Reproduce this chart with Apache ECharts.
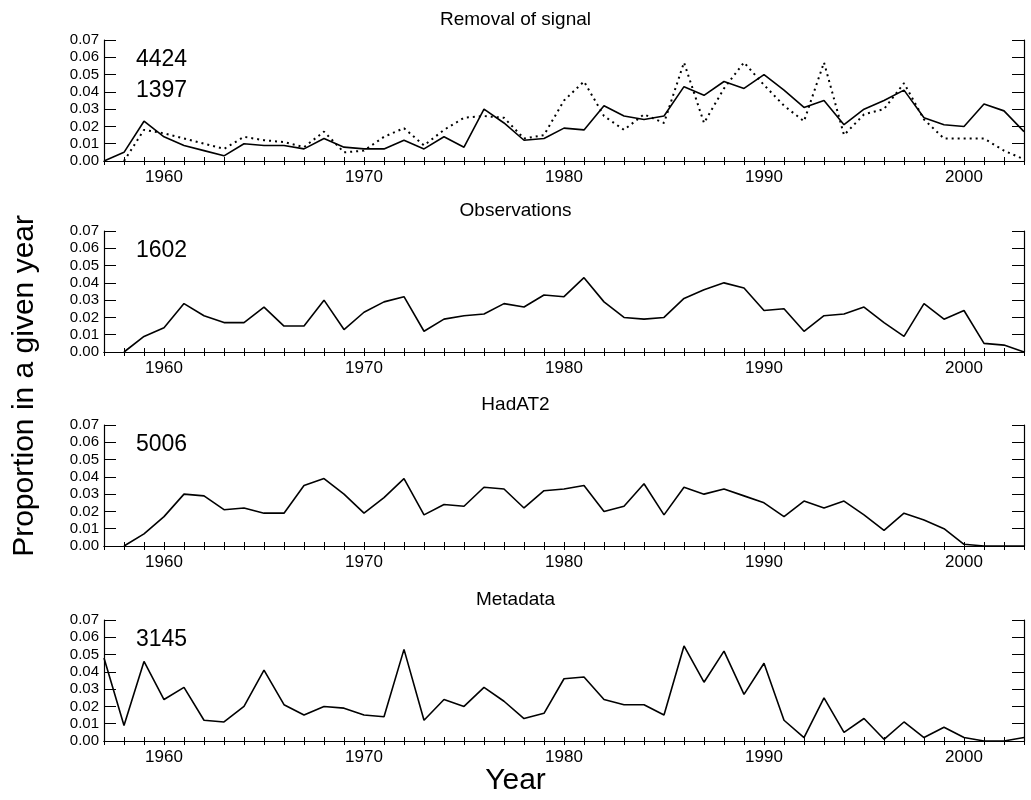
<!DOCTYPE html>
<html>
<head>
<meta charset="utf-8" />
<script src="https://cdn.jsdelivr.net/npm/echarts@6/dist/echarts.min.js"></script>
<style>
html,body{margin:0;padding:0;background:#fff;}
#chart{width:1031px;height:800px;}
</style>
</head>
<body>
<div id="chart"></div>
<script>
var years = [];
for (var y = 1957; y <= 2003; y++) years.push(y);
var decadeLabels = [1960, 1970, 1980, 1990, 2000];

var removalSolid = [0, 0.005, 0.023, 0.014, 0.009, 0.006, 0.003, 0.010, 0.009, 0.009, 0.007, 0.013, 0.008, 0.007, 0.007, 0.012, 0.007, 0.014, 0.008, 0.030, 0.022, 0.012, 0.013, 0.019, 0.018, 0.032, 0.026, 0.024, 0.026, 0.043, 0.038, 0.046, 0.042, 0.050, 0.041, 0.031, 0.035, 0.021, 0.030, 0.035, 0.041, 0.025, 0.021, 0.020, 0.033, 0.029, 0.017];
var removalDotted = [null, 0, 0.018, 0.016, 0.013, 0.010, 0.007, 0.014, 0.012, 0.011, 0.008, 0.017, 0.005, 0.006, 0.014, 0.019, 0.009, 0.018, 0.025, 0.026, 0.025, 0.013, 0.015, 0.035, 0.046, 0.026, 0.018, 0.027, 0.022, 0.057, 0.022, 0.042, 0.057, 0.044, 0.032, 0.023, 0.057, 0.015, 0.027, 0.030, 0.045, 0.024, 0.013, 0.013, 0.013, 0.006, 0.001];
var observations = [null, 0, 0.009, 0.014, 0.028, 0.021, 0.017, 0.017, 0.026, 0.015, 0.015, 0.030, 0.013, 0.023, 0.029, 0.032, 0.012, 0.019, 0.021, 0.022, 0.028, 0.026, 0.033, 0.032, 0.043, 0.029, 0.020, 0.019, 0.020, 0.031, 0.036, 0.040, 0.037, 0.024, 0.025, 0.012, 0.021, 0.022, 0.026, 0.017, 0.009, 0.028, 0.019, 0.024, 0.005, 0.004, 0.0];
var hadat2 = [null, 0, 0.007, 0.017, 0.030, 0.029, 0.021, 0.022, 0.019, 0.019, 0.035, 0.039, 0.030, 0.019, 0.028, 0.039, 0.018, 0.024, 0.023, 0.034, 0.033, 0.022, 0.032, 0.033, 0.035, 0.020, 0.023, 0.036, 0.018, 0.034, 0.030, 0.033, 0.029, 0.025, 0.017, 0.026, 0.022, 0.026, 0.018, 0.009, 0.019, 0.015, 0.010, 0.001, 0, 0, 0];
var metadata = [0.048, 0.009, 0.046, 0.024, 0.031, 0.012, 0.011, 0.020, 0.041, 0.021, 0.015, 0.020, 0.019, 0.015, 0.014, 0.053, 0.012, 0.024, 0.020, 0.031, 0.023, 0.013, 0.016, 0.036, 0.037, 0.024, 0.021, 0.021, 0.015, 0.055, 0.034, 0.052, 0.027, 0.045, 0.012, 0.002, 0.025, 0.005, 0.013, 0.001, 0.011, 0.002, 0.008, 0.002, 0, 0, 0.002];

var titles = ['Removal of signal', 'Observations', 'HadAT2', 'Metadata'];
var counts = [['4424', '1397'], ['1602'], ['5006'], ['3145']];
var tops = [40, 231, 425, 620];
var panelH = 121;

function pairs(vals) {
  return years.map(function (yr, i) { return [yr, vals[i]]; });
}

var font = 'Liberation Sans, Arial, sans-serif';
var grids = [], xAxes = [], yAxes = [], series = [], graphics = [];
tops.forEach(function (t, i) {
  grids.push({ left: 104, right: 7, top: t, height: panelH });
  xAxes.push({
    type: 'value', gridIndex: i, min: 1957, max: 2003, position: 'bottom',
    axisLine: { onZero: false, lineStyle: { color: '#000', width: 1.2 } },
    axisTick: { inside: true, length: 4, customValues: years, lineStyle: { color: '#000' } },
    axisLabel: { customValues: decadeLabels, color: '#000', fontSize: 17, fontFamily: font, margin: 8,
      formatter: function (v) { return String(v); } },
    splitLine: { show: false }
  });
  xAxes.push({
    type: 'value', gridIndex: i, min: 1957, max: 2003, position: 'top',
    axisLine: { lineStyle: { color: '#000', width: 1.2 } },
    axisTick: { inside: true, length: 4, customValues: years, lineStyle: { color: '#000' } },
    axisLabel: { show: false }, splitLine: { show: false }
  });
  yAxes.push({
    type: 'value', gridIndex: i, min: 0, max: 0.07, interval: 0.01, position: 'left',
    axisLine: { show: true, lineStyle: { color: '#000', width: 1.2 } },
    axisTick: { show: true, inside: true, length: 12, lineStyle: { color: '#000' } },
    axisLabel: { color: '#000', fontSize: 15, fontFamily: font, margin: 5,
      formatter: function (v) { return v.toFixed(2); } },
    splitLine: { show: false }
  });
  yAxes.push({
    type: 'value', gridIndex: i, min: 0, max: 0.07, interval: 0.01, position: 'right',
    axisLine: { show: true, lineStyle: { color: '#000', width: 1.2 } },
    axisTick: { show: true, inside: true, length: 12, lineStyle: { color: '#000' } },
    axisLabel: { show: false }, splitLine: { show: false }
  });
  graphics.push({ type: 'text', left: 'center', top: t - 30,
    style: { text: titles[i], fontSize: 19, fontFamily: font, fill: '#000' } });
  counts[i].forEach(function (c, k) {
    graphics.push({ type: 'text', left: 136, top: t + 8 + k * 31,
      style: { text: c, fontSize: 23, fontFamily: font, fill: '#000' } });
  });
});
graphics.push({ type: 'text', left: 'center', top: 766,
  style: { text: 'Year', fontSize: 30, fontFamily: font, fill: '#000' } });
graphics.push({ type: 'text', left: 10, top: 215, rotation: Math.PI / 2,
  style: { text: 'Proportion in a given year', fontSize: 30, fontFamily: font, fill: '#000' } });

function line(data, xi, yi, type) {
  return { type: 'line', xAxisIndex: xi, yAxisIndex: yi, data: pairs(data), symbol: 'none',
    connectNulls: false, clip: true, animation: false,
    lineStyle: { color: '#000', width: type ? 2 : 1.6, type: type || 'solid' } };
}
series.push(line(removalSolid, 0, 0));
series.push(line(removalDotted, 0, 0, [2, 4]));
series.push(line(observations, 2, 2));
series.push(line(hadat2, 4, 4));
series.push(line(metadata, 6, 6));

var chart = echarts.init(document.getElementById('chart'));
chart.setOption({
  backgroundColor: '#fff',
  animation: false,
  grid: grids, xAxis: xAxes, yAxis: yAxes, series: series, graphic: graphics
});
</script>
</body>
</html>
